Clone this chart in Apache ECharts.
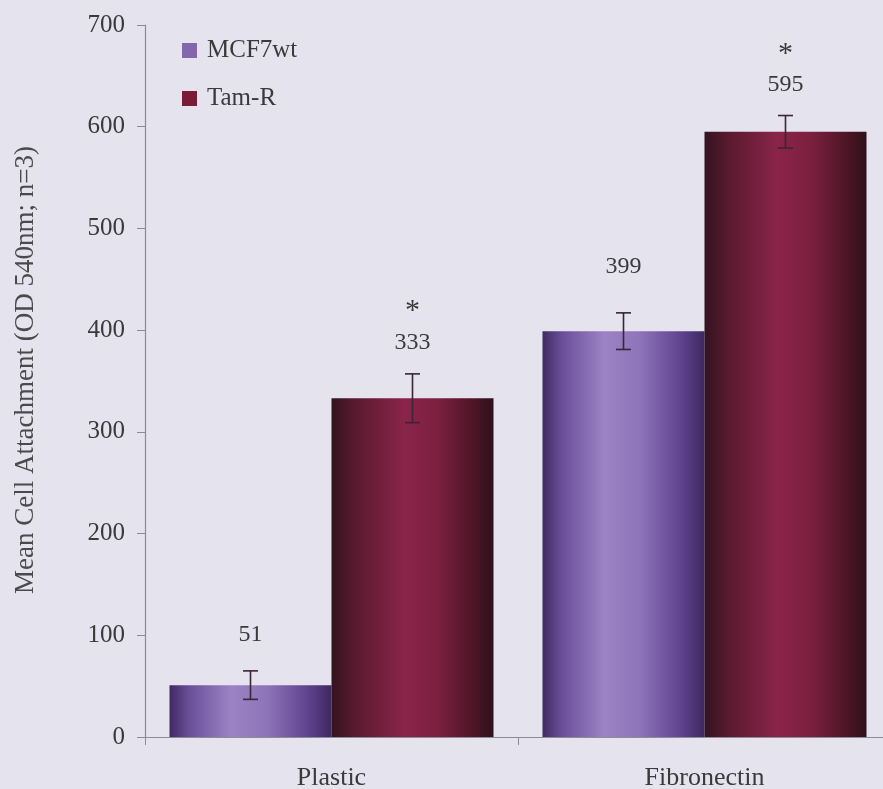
<!DOCTYPE html>
<html>
<head>
<meta charset="utf-8">
<script src="https://cdn.jsdelivr.net/npm/echarts@6/dist/echarts.min.js"></script>
<style>
  html, body { margin: 0; padding: 0; background: #e4e3ee; }
  #chart { width: 883px; height: 789px; }
</style>
</head>
<body>
<div id="chart"></div>
<script>
// Substrates tested
const categories = ['Plastic', 'Fibronectin'];
// Mean cell attachment (OD 540nm; n=3)
const mcf7wt = [51, 399];
const tamR = [333, 595];
// Error bar half-widths
const mcf7wtErr = [14, 18];
const tamRErr = [24, 16];
// Significance markers
const mcf7wtSig = [false, false];
const tamRSig = [true, true];
// Y axis range
const yMin = 0, yMax = 700, yStep = 100;

const FONT = '"Liberation Serif", "DejaVu Serif", serif';
const TEXT = '#3a3a3a';

const purpleGrad = new echarts.graphic.LinearGradient(0, 0, 1, 0, [
  { offset: 0, color: '#3f2a63' },
  { offset: 0.12, color: '#6a4f98' },
  { offset: 0.38, color: '#9b83c4' },
  { offset: 0.6, color: '#8e74b9' },
  { offset: 0.85, color: '#60448f' },
  { offset: 1, color: '#3d2860' }
]);
const redGrad = new echarts.graphic.LinearGradient(0, 0, 1, 0, [
  { offset: 0, color: '#33131f' },
  { offset: 0.15, color: '#5a1a30' },
  { offset: 0.45, color: '#8a2448' },
  { offset: 0.65, color: '#7c2040' },
  { offset: 0.88, color: '#4d1526' },
  { offset: 1, color: '#2e111b' }
]);

const BAR_W = 162;

function labelFormatter(sig) {
  return p => (sig[p.dataIndex] ? '{s|*}\n' : '') + '{v|' + p.value + '}';
}

const labelRich = {
  s: { fontFamily: FONT, fontSize: 30, color: TEXT, lineHeight: 38, align: 'center', verticalAlign: 'middle' },
  v: { fontFamily: FONT, fontSize: 24, color: TEXT, lineHeight: 24, align: 'center' }
};

function makeBar(name, values, grad, sig, distances) {
  return {
    name: name,
    type: 'bar',
    barWidth: BAR_W,
    barGap: '0%',
    itemStyle: { color: grad },
    data: values.map((v, i) => ({ value: v, label: { distance: distances[i] } })),
    label: {
      show: true,
      position: 'top',
      formatter: labelFormatter(sig),
      rich: labelRich
    },
    z: 2
  };
}

function errorSeries(values, errs, offset) {
  return {
    type: 'custom',
    silent: true,
    z: 5,
    data: values.map((v, i) => [i, v, errs[i]]),
    renderItem: (params, api) => {
      const i = api.value(0);
      const v = api.value(1);
      const e = api.value(2);
      const top = api.coord([i, v + e]);
      const bot = api.coord([i, v - e]);
      const x = top[0] + offset;
      const cap = 7.5;
      const style = { stroke: '#3a2634', lineWidth: 1.6 };
      return {
        type: 'group',
        children: [
          { type: 'line', shape: { x1: x, y1: top[1], x2: x, y2: bot[1] }, style },
          { type: 'line', shape: { x1: x - cap, y1: top[1], x2: x + cap, y2: top[1] }, style },
          { type: 'line', shape: { x1: x - cap, y1: bot[1], x2: x + cap, y2: bot[1] }, style }
        ]
      };
    }
  };
}

const chart = echarts.init(document.getElementById('chart'), null, { renderer: 'canvas' });
chart.setOption({
  backgroundColor: '#e4e3ee',
  animation: false,
  textStyle: { fontFamily: FONT, color: TEXT },
  legend: {
    orient: 'vertical',
    left: 182,
    top: 38,
    padding: 0,
    itemWidth: 15,
    itemHeight: 15,
    itemGap: 23,
    icon: 'rect',
    textStyle: { fontFamily: FONT, fontSize: 25, color: TEXT, padding: [0, 0, 0, 5] },
    data: [
      { name: 'MCF7wt', itemStyle: { color: '#8466ad' } },
      { name: 'Tam-R', itemStyle: { color: '#7a1c36' } }
    ]
  },
  grid: { left: 145, top: 25, bottom: 52, width: 746, outerBoundsMode: 'none' },
  xAxis: {
    type: 'category',
    data: categories,
    axisLine: { lineStyle: { color: '#8c8c96', width: 1.2 } },
    axisTick: { show: true, length: 8, lineStyle: { color: '#8c8c96' } },
    axisLabel: { fontFamily: FONT, fontSize: 26, color: TEXT, margin: 28 }
  },
  yAxis: {
    type: 'value',
    min: yMin,
    max: yMax,
    interval: yStep,
    name: 'Mean Cell Attachment (OD 540nm; n=3)',
    nameLocation: 'middle',
    nameGap: 106,
    nameTextStyle: { fontFamily: FONT, fontSize: 27, color: '#4a4a4a', padding: [0, 0, 0, 22] },
    axisLine: { show: true, lineStyle: { color: '#8c8c96', width: 1.2 } },
    axisTick: { show: true, length: 8, lineStyle: { color: '#8c8c96' } },
    axisLabel: { fontFamily: FONT, fontSize: 25, color: TEXT, margin: 20 },
    splitLine: { show: false }
  },
  series: [
    makeBar('MCF7wt', mcf7wt, purpleGrad, mcf7wtSig, [38, 52]),
    makeBar('Tam-R', tamR, redGrad, tamRSig, [44, 35]),
    errorSeries(mcf7wt, mcf7wtErr, -81),
    errorSeries(tamR, tamRErr, 81)
  ]
});
</script>
</body>
</html>
